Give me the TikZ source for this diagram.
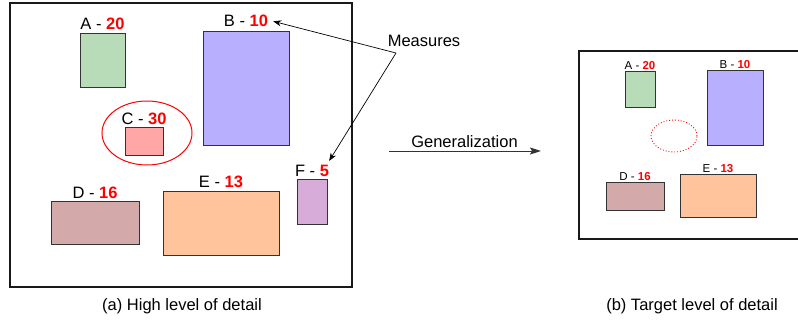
\documentclass[tikz,border=0pt]{standalone}
\usepackage{fontspec}
\setmainfont{Liberation Sans}
\usetikzlibrary{arrows.meta,shapes.geometric}
\definecolor{cA}{HTML}{B8DBB8}
\definecolor{cB}{HTML}{B8B0FF}
\definecolor{cC}{HTML}{FFA6A6}
\definecolor{cD}{HTML}{D4A9A9}
\definecolor{cE}{HTML}{FFC49B}
\definecolor{cF}{HTML}{D8ACD8}
\definecolor{edge}{HTML}{333333}
\definecolor{numred}{HTML}{FF0000}
\newcommand{\nm}[1]{\textbf{\color{numred}#1}}
\tikzset{
  box/.style={draw=edge, line width=1pt, inner sep=0pt, outer sep=0pt},
  lbl/.style={anchor=base, inner sep=1pt, font=\fontsize{16.5}{18}\selectfont},
  slbl/.style={anchor=base, inner sep=1pt, font=\fontsize{11.5}{13}\selectfont},
  captext/.style={font=\fontsize{16.5}{18}\selectfont, inner sep=0pt},
  framebox/.style={draw=black!90, line width=1.4pt},
  ptr/.style={draw=black, line width=0.7pt, -{Stealth[length=8pt,width=6pt,inset=2.5pt]}},
}
\begin{document}
\begin{tikzpicture}[x=1pt,y=-1pt]
\useasboundingbox (0,0) rectangle (798,324);
% left frame
\draw[framebox] (10,3) rectangle (352,287);
% boxes (left)
\node[box, fill=cA, minimum width=45, minimum height=54] (A) at (102.5,60) {};
\node[lbl] (Al) at ([yshift=4pt]A.north) {A - \nm{20}};
\node[box, fill=cB, minimum width=86, minimum height=114] (B) at (246,88) {};
\node[lbl] (Bl) at ([yshift=4pt]B.north) {B - \nm{10}};
\node[draw=red, line width=1pt, ellipse, minimum width=90, minimum height=64, inner sep=0pt] (Cel) at (147,133) {};
\node[box, fill=cC, minimum width=38, minimum height=28] (C) at (144,141) {};
\node[lbl] (Cl) at ([yshift=3pt]C.north) {C - \nm{30}};
\node[box, fill=cD, minimum width=88, minimum height=43] (D) at (95,222.5) {};
\node[lbl] (Dl) at ([yshift=3pt]D.north) {D - \nm{16}};
\node[box, fill=cE, minimum width=116, minimum height=64] (E) at (221,223) {};
\node[lbl] (El) at ([yshift=4pt]E.north) {E - \nm{13}};
\node[box, fill=cF, minimum width=30, minimum height=45] (F) at (312,201.5) {};
\node[lbl] (Fl) at ([yshift=2.5pt]F.north) {F - \nm{5}};
% measures
\node[captext, anchor=base] (M) at (424,46) {Measures};
\coordinate (mj) at (396,53);
\draw[ptr] (mj) -- ([xshift=4pt]Bl.east);
\draw[ptr] (mj) -- ([xshift=-1pt,yshift=3pt]Fl.north east);
% generalization
\coordinate (g0) at (389,151);
\coordinate (g1) at (541,151);
\draw[draw=black!80, line width=1pt, -{Stealth[length=11pt,width=7pt,inset=2pt]}] (g0) -- (g1);
\node[captext, anchor=base] (G) at (464.5,147) {Generalization};
% right frame
\draw[framebox, line width=1.2pt] (798,51) -- (579,51) -- (579,239) -- (798,239);
\node[box, fill=cA, minimum width=30, minimum height=36] (A2) at (640,89) {};
\node[slbl] (A2l) at ([yshift=2pt]A2.north) {A - \nm{20}};
\node[box, fill=cB, minimum width=56, minimum height=75] (B2) at (735,107.5) {};
\node[slbl] (B2l) at ([yshift=2pt]B2.north) {B - \nm{10}};
\node[draw=red, line width=0.9pt, dotted, ellipse, minimum width=46, minimum height=32, inner sep=0pt] (C2) at (674,136) {};
\node[box, fill=cD, minimum width=58, minimum height=28] (D2) at (635,196) {};
\node[slbl] (D2l) at ([yshift=2pt]D2.north) {D - \nm{16}};
\node[box, fill=cE, minimum width=76, minimum height=43] (E2) at (718,195.5) {};
\node[slbl] (E2l) at ([yshift=2pt]E2.north) {E - \nm{13}};
% captions
\node[captext] (capA) at (182,306) {(a) High level of detail};
\node[captext] (capB) at (692,306) {(b) Target level of detail};
\end{tikzpicture}
\end{document}
